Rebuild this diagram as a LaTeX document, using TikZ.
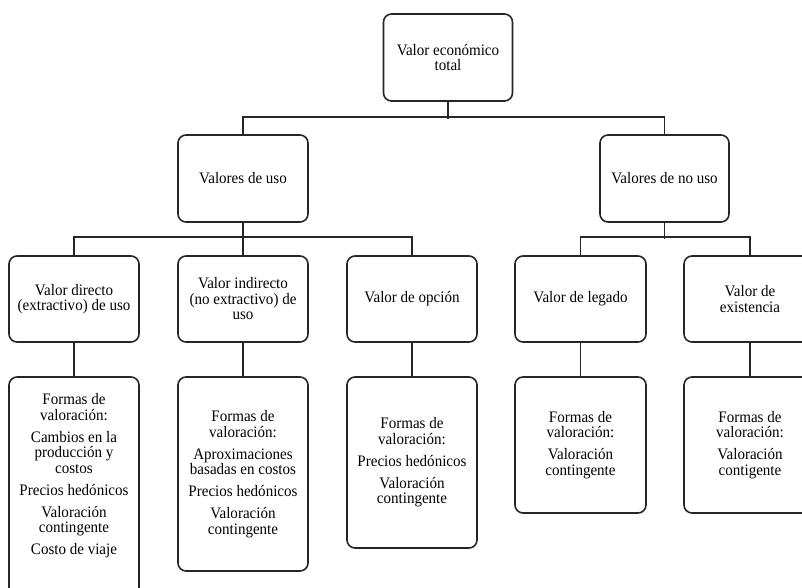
\documentclass[tikz,border=0pt]{standalone}
\usepackage{fontspec}
\setmainfont{Liberation Serif}[FakeStretch=0.94]
\begin{document}
\begin{tikzpicture}[x=1pt,y=-1pt,
  box/.style={draw=black!85,line width=1.6pt,rounded corners=8pt,inner sep=2pt,align=center,
    font=\fontsize{16}{15.5}\selectfont,text=black},
  txt/.style={align=center,inner sep=0pt,font=\fontsize{16}{15.5}\selectfont,text=black},
  link/.style={draw=black!85,line width=1.6pt}]
\useasboundingbox (0,0) rectangle (802,587);
\def\gp{\\[6.5pt]}
% level 1
\node[box,minimum width=129pt,minimum height=87pt] (top) at (448,57.5) {Valor económico\\total};
% level 2
\node[box,minimum width=130pt,minimum height=87pt] (uso) at (243,178.5) {Valores de uso};
\node[box,minimum width=129pt,minimum height=87pt] (nouso) at (664.5,178.5) {Valores de no uso};
% level 3
\node[box,minimum width=130pt,minimum height=86pt] (d1) at (74,299) {Valor directo\\(extractivo) de uso};
\node[box,minimum width=130pt,minimum height=86pt] (d2) at (243,299) {Valor indirecto\\(no extractivo) de\\uso};
\node[box,minimum width=130pt,minimum height=86pt] (d3) at (412,299) {Valor de opción};
\node[box,minimum width=131pt,minimum height=86pt] (d4) at (580.5,299) {Valor de legado};
\node[box,minimum width=132pt,minimum height=86pt] (d5) at (750,299) {Valor de\\existencia};
% level 4
\node[box,minimum width=130pt,minimum height=223pt] (f1) at (74,488.5) {};
\node[txt] (f1t) at (74,476) {Formas de\\valoración:\gp Cambios en la\\producción y\\costos\gp Precios hedónicos\gp Valoración\\contingente\gp Costo de viaje};
\node[box,minimum width=130pt,minimum height=194pt] (f2) at (243,474) {Formas de\\valoración:\gp Aproximaciones\\basadas en costos\gp Precios hedónicos\gp Valoración\\contingente};
\node[box,minimum width=130pt,minimum height=171pt] (f3) at (412,462.5) {Formas de\\valoración:\gp Precios hedónicos\gp Valoración\\contingente};
\node[box,minimum width=131pt,minimum height=136pt] (f4) at (580.5,445) {Formas de\\valoración:\gp Valoración\\contingente};
\node[box,minimum width=132pt,minimum height=136pt] (f5) at (750,445) {Formas de\\valoración:\gp Valoración\\contigente};
% connectors
\draw[link] (top.south) -- ++(0,17);
\draw[link] (uso.north) -- ++(0,-17) -| (nouso.north);
\draw[link] (uso.south) -- (d2.north);
\draw[link] (d1.north) -- ++(0,-18) -| (d3.north);
\draw[link] (nouso.south) -- ++(0,16);
\draw[link] (d4.north) -- ++(0,-18) -| (d5.north);
\draw[link] (d1.south) -- (f1.north);
\draw[link] (d2.south) -- (f2.north);
\draw[link] (d3.south) -- (f3.north);
\draw[link] (d4.south) -- (f4.north);
\draw[link] (d5.south) -- (f5.north);
\end{tikzpicture}
\end{document}
